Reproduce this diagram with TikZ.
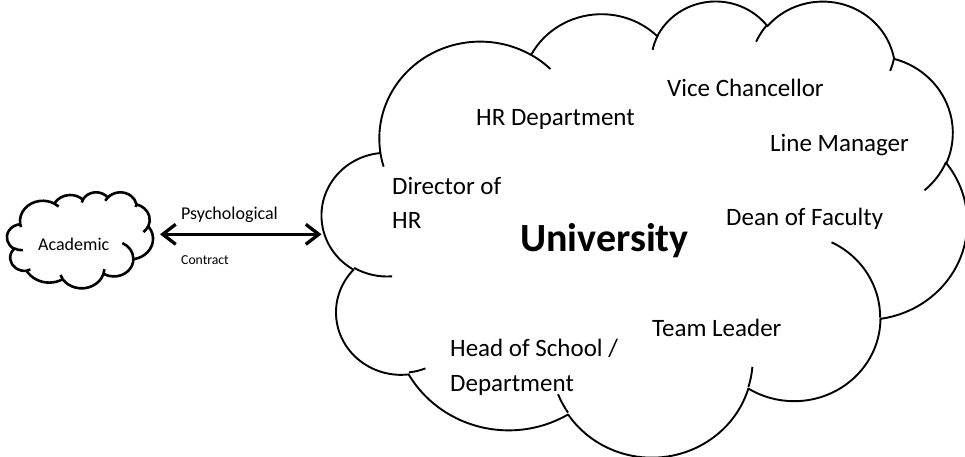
\documentclass[tikz,border=0pt]{standalone}
\usepackage{fontspec}
\setmainfont{Carlito}
\usetikzlibrary{arrows.meta}

% One elliptic arc of the cloud outline: #1 style name, #2/#3 radii,
% #4 start angle and #5 sweep, both measured as true (visual) angles.
% The style converts them to the parametric angles TikZ expects.
\newcommand\prepseg[5]{%
  \pgfmathsetmacro\segT{atan2((#2)*sin(#4),(#3)*cos(#4))}%
  \pgfmathsetmacro\segE{atan2((#2)*sin((#4)+(#5)),(#3)*cos((#4)+(#5)))}%
  \pgfmathsetmacro\segD{\segE-\segT}%
  \pgfmathsetmacro\segD{\segD-360*round((\segD-(#5))/360)}%
  \tikzset{#1/.style/.expanded={x radius=#2,y radius=#3,start angle=\segT,delta angle=\segD}}%
}

% outline bumps
\prepseg{cla}{67.53}{91.90}{-190.487483}{123.780533}
\prepseg{clb}{53.33}{72.67}{-144.102383}{89.945233}
\prepseg{clc}{43.65}{59.45}{-145.807917}{99.723017}
\prepseg{cld}{48.57}{65.95}{-130.986067}{117.241733}
\prepseg{cle}{53.33}{72.73}{-78.708883}{109.026917}
\prepseg{clf}{67.75}{92.20}{-46.26725}{130.269}
\prepseg{clg}{57.85}{78.67}{0.625017}{114.033333}
\prepseg{clh}{67.52}{92.15}{22.4516}{115.17255}
\prepseg{cli}{77.20}{105.43}{66.242633}{75.711017}
\prepseg{clj}{43.60}{59.18}{-274.942083}{146.735567}
\prepseg{clk}{43.45}{59.45}{-246.8285}{152.51885}
% inner folds
\prepseg{cfa}{43.45}{59.45}{86.742}{26.4295}
\prepseg{cfb}{43.60}{59.18}{73.610467}{11.447467}
\prepseg{cfc}{67.52}{92.15}{137.62415}{14.0811}
\prepseg{cfd}{67.52}{92.15}{6.453267}{15.99835}
\prepseg{cfe}{57.85}{78.67}{-70.29235}{70.917367}
\prepseg{cff}{53.33}{72.73}{30.318033}{27.7515}
\prepseg{cfg}{48.57}{65.95}{13.744333}{14.8589}
\prepseg{cfh}{48.57}{65.95}{-149.18145}{18.195367}
\prepseg{cfi}{43.65}{59.45}{-163.494267}{17.68635}
\prepseg{cfj}{67.53}{91.90}{-66.70695}{12.31935}
\prepseg{cfk}{67.53}{91.90}{157.65435}{11.858167}

% cloud drawn in a 432 x 432 grid (y downwards)
\newcommand\cloudshape[1]{%
  \draw[#1,fill=white] (39.00,143.70) arc[cla] arc[clb] arc[clc] arc[cld]
    arc[cle] arc[clf] arc[clg] arc[clh] arc[cli] arc[clj] arc[clk] -- cycle;
  \draw[#1] (46.93,261.77) arc[cfa]
    (69.28,348.99) arc[cfb]
    (164.78,390.90) arc[cfc]
    (288.27,347.51) arc[cfd]
    (341.29,229.54) arc[cfe]
    (417.98,153.54) arc[cff]
    (383.24,54.26) arc[cfg]
    (290.78,39.52) arc[cfh]
    (221.41,47.20) arc[cfi]
    (140.00,51.92) arc[cfj]
    (41.27,157.89) arc[cfk];
}

\begin{document}
\begin{tikzpicture}[x=1pt,y=-1pt,
    bigline/.style={line width=1.9pt,line join=round},
    smallline/.style={line width=2.6pt,line join=round},
    role/.style={inner sep=0pt,anchor=base west,font=\fontsize{25}{30}\selectfont},
    small/.style={inner sep=0pt,anchor=base west,font=\fontsize{18}{22}\selectfont},
    tiny/.style={inner sep=0pt,anchor=base west,font=\fontsize{13.7}{16}\selectfont},
    psyarrow/.style={line width=3.3pt,
      {Straight Barb[length=13pt,width=20pt]}-{Straight Barb[length=13pt,width=20pt]}}]
  \useasboundingbox (0,0) rectangle (965,456);

  % the university cloud
  \begin{scope}[shift={(322,0)},x={(1.49306pt,0pt)},y={(0pt,-1.05556pt)}]
    \cloudshape{bigline}
  \end{scope}

  % the academic cloud
  \begin{scope}[shift={(7,192)},x={(0.33796pt,0pt)},y={(0pt,-0.22222pt)}]
    \cloudshape{smallline}
  \end{scope}

  \node[small] (academic) at (38,250) {Academic};

  \node[role] (hrdept) at (476,125) {HR Department};
  \node[role] (vc) at (667,96.7) {Vice Chancellor};
  \node[role] (lm) at (770,151.7) {Line Manager};
  \node[role] (dir1) at (392,194.3) {Director of};
  \node[role] (dir2) at (392,228.3) {HR};
  \node[role] (dean) at (726,225) {Dean of Faculty};
  \node[inner sep=0pt,anchor=base west,font=\fontsize{40}{48}\selectfont\bfseries]
    (uni) at (520,251.7) {University};
  \node[role] (team) at (652,336.7) {Team Leader};
  \node[role] (head1) at (450,356.7) {Head of School /};
  \node[role] (head2) at (450,391.7) {Department};

  % psychological contract between the two clouds
  \coordinate (pcL) at (160,234.3);
  \coordinate (pcR) at (321.5,234.3);
  \draw[psyarrow] (pcL) -- (pcR);
  \node[small] (psy) at (181,219) {Psychological};
  \node[tiny] (contract) at (181,264.3) {Contract};
\end{tikzpicture}
\end{document}
